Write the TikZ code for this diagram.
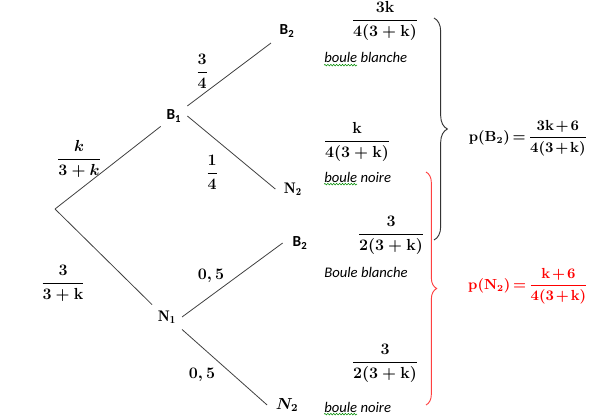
\documentclass[tikz,border=0pt]{standalone}
\usepackage{amsmath}
\usepackage{fontspec}
\setsansfont{Carlito}
\usetikzlibrary{decorations.pathreplacing,decorations.pathmorphing}
\newcommand\bk{\mathbf{k}}
\newcommand\tightsp{\thickmuskip=3mu\relax\medmuskip=2mu\relax}
\begin{document}
\begin{tikzpicture}[x=0.75pt,y=-0.75pt,
  lbl/.style={inner sep=1.5pt,outer sep=3pt,font=\fontsize{11.5}{13}\selectfont},
  sflbl/.style={lbl,font=\fontsize{11.5}{13}\selectfont\sffamily\bfseries},
  frac/.style={inner sep=0pt,font=\fontsize{11.5}{14}\selectfont\boldmath},
  res/.style={inner sep=0pt,font=\fontsize{10.5}{13}\selectfont\boldmath},
  note/.style={inner sep=0pt,anchor=base west,font=\fontsize{11}{13}\selectfont\sffamily\itshape},
  branch/.style={draw=black!75,line width=0.6pt},
  wave/.style={draw=green!55!black,line width=0.4pt,decorate,decoration={snake,amplitude=0.6pt,segment length=2.2pt}},
  bracestyle/.style={line width=0.7pt,decorate,decoration={brace,amplitude=#1}}
]
\useasboundingbox (0,0) rectangle (591,420);

% tree nodes
\coordinate (root) at (55,209);
\node[sflbl] (B1) at (174,116) {B\textsubscript{1}};
\node[sflbl,outer sep=5pt] (B2a) at (287,31) {B\textsubscript{2}};
\node[lbl,outer sep=5pt] (N2a) at (293,189) {$\mathbf{N_2}$};
\node[lbl] (N1) at (167,317) {$\mathbf{N_1}$};
\node[sflbl,outer sep=6pt] (B2b) at (300,243) {B\textsubscript{2}};
\node[lbl,outer sep=5pt] (N2b) at (287,405) {$\boldsymbol{N_2}$};

% branches
\draw[branch] (root) -- (B1);
\draw[branch] (B1) -- (B2a);
\draw[branch] (B1.east) -- (N2a.west);
\draw[branch] (root) -- (N1.north west);
\draw[branch] (N1.east) -- (B2b.west);
\draw[branch] (N1.south east) -- (N2b.west);

% branch probabilities
\node[frac] (pk) at (79,159) {$\dfrac{k}{3+k}$};
\node[frac] (p34) at (202,71) {$\dfrac{3}{4}$};
\node[frac] (p14) at (212,172) {$\dfrac{1}{4}$};
\node[frac] (p3k) at (63,283) {$\dfrac{3}{3+\bk}$};
\node[frac] (p05a) at (211,276) {$0,5$};
\node[frac] (p05b) at (202,375) {$0,5$};

% outcome probabilities
\node[frac] (fBB) at (385,21) {$\dfrac{3\bk}{4(3+\bk)}$};
\node[frac] (fBN) at (357,142) {$\dfrac{\bk}{4(3+\bk)}$};
\node[frac] (fNB) at (391,235) {$\dfrac{3}{2(3+\bk)}$};
\node[frac] (fNN) at (385,363) {$\dfrac{3}{2(3+\bk)}$};

% notes
\node[note] (n1) at (324,63) {boule blanche};
\node[note] (n2) at (324,182) {boule noire};
\node[note] (n3) at (324,277) {Boule blanche};
\node[note] (n4) at (324,412) {boule noire};
\draw[wave] ([yshift=-1.6pt]n1.base west) -- ++(33,0);
\draw[wave] ([yshift=-1.6pt]n2.base west) -- ++(33,0);
\draw[wave] ([yshift=-1.6pt]n4.base west) -- ++(33,0);

% braces
\coordinate (bt) at (434,18);
\coordinate (bb) at (434,240);
\coordinate (rt) at (426,172);
\coordinate (rb) at (426,405);
\draw[bracestyle=10pt,draw=black!80] (bt) -- (bb);
\draw[bracestyle=8pt,draw=red!75] (rt) -- (rb);

% results
\node[res] (pB) at (528,138) {$\tightsp\mathbf{p}(\mathbf{B}_2)=\dfrac{3\bk+6}{4(3+\bk)}$};
\node[res,text=red] (pN) at (528,286) {$\tightsp\mathbf{p}(\mathbf{N}_2)=\dfrac{\bk+6}{4(3+\bk)}$};
\end{tikzpicture}
\end{document}
